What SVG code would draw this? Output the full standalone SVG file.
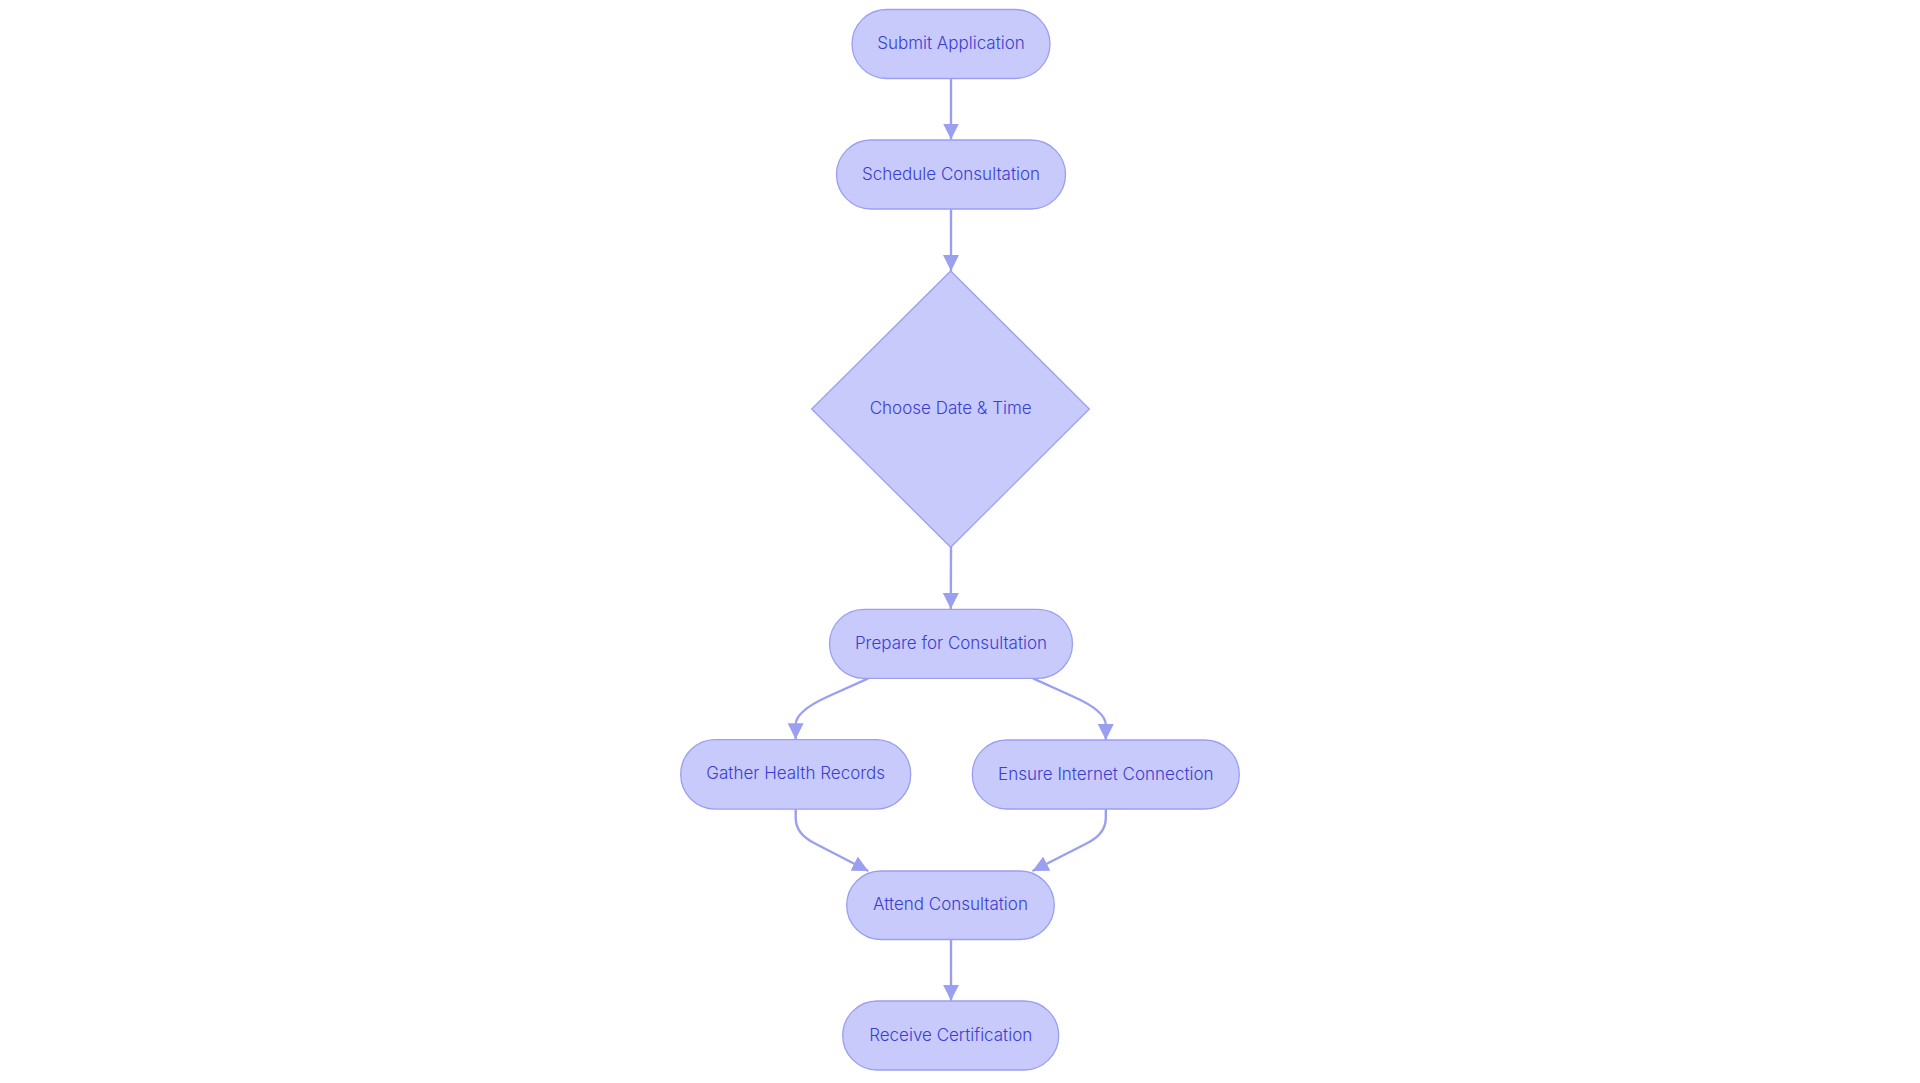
<svg xmlns="http://www.w3.org/2000/svg" width="1920" height="1083" viewBox="0 0 1920 1083">
<style>
.node{fill:#C8CAFC;stroke:#9A9FF0;stroke-width:1.3}
.lbl{font-family:Inter,"Noto Sans",sans-serif;font-size:17px;font-weight:300;fill:#3A3FD0;text-anchor:middle;dominant-baseline:central}
.edge{fill:none;stroke:#9A9FF0;stroke-width:2.4}
</style>
<defs>
<marker id="arr" viewBox="0 0 10 10" refX="10" refY="5" markerUnits="userSpaceOnUse" markerWidth="16" markerHeight="16" orient="auto">
<path d="M0,0 L10,5 L0,10 z" fill="#9A9FF0"/>
</marker>
</defs>
<rect width="1920" height="1083" fill="#ffffff"/>
<g id="connectors">
<path class="edge" d="M951,78.5 L951,139.5" marker-end="url(#arr)"/>
<path class="edge" d="M951,209.5 L951,271" marker-end="url(#arr)"/>
<path class="edge" d="M951,547 L950.8,609" marker-end="url(#arr)"/>
<path class="edge" d="M868.3,678.3 L828,696.5 Q795.6,711 795.6,725 L795.6,739.3" marker-end="url(#arr)"/>
<path class="edge" d="M1033,678.3 L1073,696.5 Q1105.8,711 1105.8,725 L1105.8,740" marker-end="url(#arr)"/>
<path class="edge" d="M795.7,809.3 L795.7,818 Q795.7,834 815,843.5 L868.3,871" marker-end="url(#arr)"/>
<path class="edge" d="M1105.8,808.7 L1105.8,818 Q1105.8,834 1086.5,843.5 L1032.5,871" marker-end="url(#arr)"/>
<path class="edge" d="M951,939.3 L951,1000.7" marker-end="url(#arr)"/>
</g>
<g id="submit"><rect class="node" x="852" y="9.5" width="198" height="69" rx="34.5"/><text class="lbl" x="951" y="43">Submit Application</text></g>
<g id="schedule"><rect class="node" x="836.5" y="140" width="229" height="69" rx="34.5"/><text class="lbl" x="951" y="173.5">Schedule Consultation</text></g>
<g id="choose"><polygon class="node" points="950.7,271 1089.3,409 950.7,547.3 811.7,409"/><text class="lbl" x="950.7" y="408">Choose Date &amp; Time</text></g>
<g id="prepare"><rect class="node" x="829.5" y="609.3" width="243" height="69" rx="34.5"/><text class="lbl" x="951" y="642.8">Prepare for Consultation</text></g>
<g id="gather"><rect class="node" x="680.7" y="739.6" width="230" height="69.5" rx="34.5"/><text class="lbl" x="795.7" y="773.3">Gather Health Records</text></g>
<g id="ensure"><rect class="node" x="972.3" y="740" width="267" height="69" rx="34.5"/><text class="lbl" x="1105.8" y="773.5">Ensure Internet Connection</text></g>
<g id="attend"><rect class="node" x="846.7" y="871" width="207.6" height="68.5" rx="34.2"/><text class="lbl" x="950.5" y="904.2">Attend Consultation</text></g>
<g id="receive"><rect class="node" x="842.7" y="1001" width="216" height="69" rx="34.5"/><text class="lbl" x="950.7" y="1034.5">Receive Certification</text></g>
</svg>
